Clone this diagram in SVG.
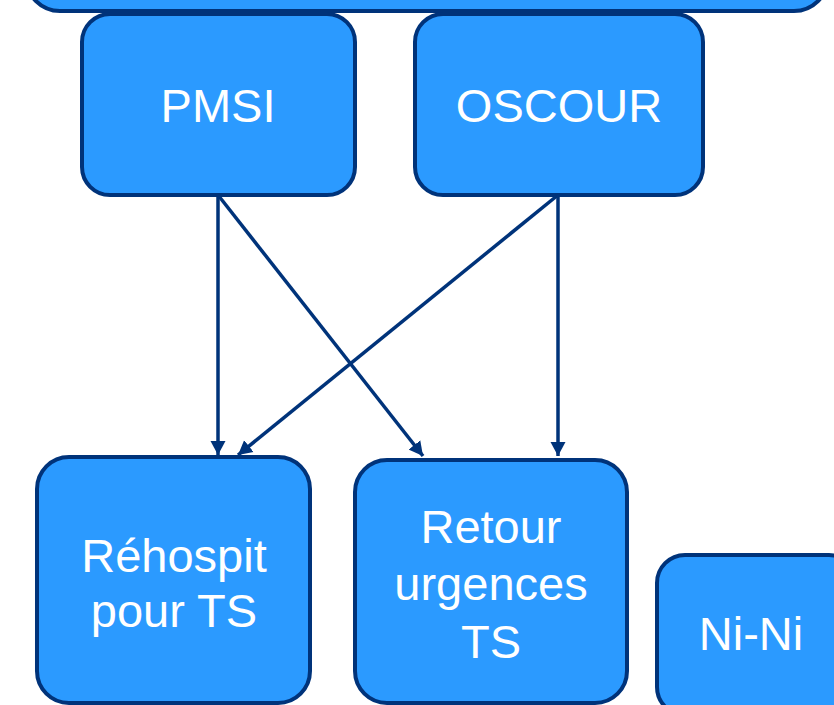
<svg xmlns="http://www.w3.org/2000/svg" width="834" height="705" viewBox="0 0 834 705">
<defs>
<style>
.box{fill:#2B9AFF;stroke:#00337A;stroke-width:4}
.lbl{font-family:"Liberation Sans",Arial,sans-serif;font-size:47px;fill:#fff;text-anchor:middle}
.conn{stroke:#00337A;stroke-width:3.5;fill:none;marker-end:url(#ah)}
</style>
<marker id="ah" markerUnits="userSpaceOnUse" markerWidth="16" markerHeight="16" refX="14" refY="8" orient="auto">
<path d="M0,0.5 L14,8 L0,15.5 Z" fill="#00337A"/>
</marker>
</defs>
<rect width="834" height="705" fill="#fff"/>
<g id="top">
<rect class="box" x="26" y="-200" width="802" height="211" rx="34"/>
</g>
<g id="pmsi">
<rect class="box" x="82" y="14" width="273" height="181" rx="28"/>
<text class="lbl" x="218" y="122">PMSI</text>
</g>
<g id="oscour">
<rect class="box" x="415" y="14" width="288" height="181" rx="28"/>
<text class="lbl" x="559" y="122">OSCOUR</text>
</g>
<g id="rehospit">
<rect class="box" x="37" y="457" width="273" height="246" rx="32"/>
<text class="lbl" x="174" y="572">Réhospit</text>
<text class="lbl" x="174" y="627">pour TS</text>
</g>
<g id="retour">
<rect class="box" x="355" y="460" width="272" height="243" rx="32"/>
<text class="lbl" x="491" y="543">Retour</text>
<text class="lbl" x="491" y="600">urgences</text>
<text class="lbl" x="491" y="658">TS</text>
</g>
<g id="nini">
<rect class="box" x="657" y="555" width="200" height="160" rx="28"/>
<text class="lbl" x="751" y="650">Ni-Ni</text>
</g>
<g id="connectors">
<line class="conn" x1="218" y1="195" x2="218" y2="455"/>
<line class="conn" x1="218" y1="195" x2="423" y2="456"/>
<line class="conn" x1="558" y1="195" x2="238" y2="455"/>
<line class="conn" x1="558" y1="195" x2="558" y2="456"/>
</g>
</svg>
